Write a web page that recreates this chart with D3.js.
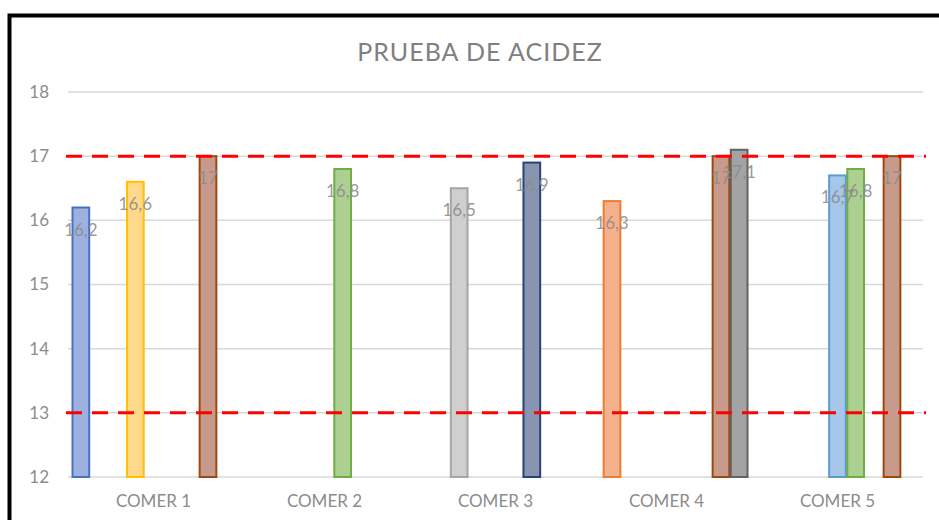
<!DOCTYPE html>
<html>
<head>
<meta charset="utf-8">
<script src="https://d3js.org/d3.v7.min.js"></script>
<style>
  body { margin: 0; background: #fff; }
  text { font-family: Lato, "Open Sans", sans-serif; }
</style>
</head>
<body>
<div id="chart"></div>
<script>
// categories and series
const categories = ["COMER 1", "COMER 2", "COMER 3", "COMER 4", "COMER 5"];
const seriesNames = ["S1", "S2", "S3", "S4", "S5", "S6", "S7", "S8", "S9"];
const seriesColors = ["#4472C4", "#ED7D31", "#A5A5A5", "#FFC000", "#5B9BD5", "#70AD47", "#264478", "#9E480E", "#636363"];
const seriesFills = ["#9db1e0", "#f5b08c", "#cfcfcf", "#ffd88a", "#a6c6ea", "#acd091", "#8994b0", "#c79a8c", "#a3a3a3"];
const s1 = [16.2, null, null, null, null];
const s2 = [null, null, null, 16.3, null];
const s3 = [null, null, 16.5, null, null];
const s4 = [16.6, null, null, null, null];
const s5 = [null, null, null, null, 16.7];
const s6 = [null, 16.8, null, null, 16.8];
const s7 = [null, null, 16.9, null, null];
const s8 = [17, null, null, 17, 17];
const s9 = [null, null, null, 17.1, null];
const seriesValues = [s1, s2, s3, s4, s5, s6, s7, s8, s9];
const yTicks = [12, 13, 14, 15, 16, 17, 18];
const limits = [17, 13];

const width = 939, height = 520;

const svg = d3.select("#chart")
  .append("svg")
  .attr("width", width)
  .attr("height", height);

// frame of the chart
svg.append("path")
  .attr("d", "M9.5,520 L9.5,15.5 L939,15.5")
  .attr("fill", "none")
  .attr("stroke", "#000")
  .attr("stroke-width", 4);

const x0 = d3.scaleBand()
  .domain(categories)
  .range([68, 923]);

const x1 = d3.scaleBand()
  .domain(seriesNames)
  .range([4.5, 166.5])
  .paddingInner(0.08);

const y = d3.scaleLinear()
  .domain([12, 18])
  .range([477, 92]);

// gridlines
svg.append("g")
  .selectAll("line")
  .data(yTicks)
  .join("line")
  .attr("x1", 68)
  .attr("x2", 923)
  .attr("y1", d => y(d))
  .attr("y2", d => y(d))
  .attr("stroke", "#d9d9d9")
  .attr("stroke-width", 1.5);

// y tick labels
svg.append("g")
  .selectAll("text")
  .data(yTicks)
  .join("text")
  .attr("x", 49)
  .attr("y", d => y(d))
  .attr("dy", "0.35em")
  .attr("text-anchor", "end")
  .attr("font-size", "17px")
  .attr("fill", "#8c8c8c")
  .text(d => d);

// category labels
svg.append("g")
  .selectAll("text")
  .data(categories)
  .join("text")
  .attr("x", d => x0(d) + x0.bandwidth() / 2)
  .attr("y", 501)
  .attr("dy", "0.35em")
  .attr("text-anchor", "middle")
  .attr("font-size", "17px")
  .attr("fill", "#8c8c8c")
  .text(d => d);

// bars
const barData = [];
seriesValues.forEach((vals, si) => {
  vals.forEach((v, ci) => {
    if (v !== null) barData.push({ s: seriesNames[si], color: seriesColors[si], fill: seriesFills[si], cat: categories[ci], value: v });
  });
});

svg.append("g")
  .selectAll("rect")
  .data(barData)
  .join("rect")
  .attr("x", d => x0(d.cat) + x1(d.s))
  .attr("y", d => y(d.value))
  .attr("width", x1.bandwidth())
  .attr("height", d => y(12) - y(d.value))
  .attr("fill", d => d.fill)
  .attr("stroke", d => d.color)
  .attr("stroke-width", 2);

// limit lines
svg.append("g")
  .selectAll("line")
  .data(limits)
  .join("line")
  .attr("x1", 66)
  .attr("x2", 926)
  .attr("y1", d => y(d))
  .attr("y2", d => y(d))
  .attr("stroke", "#ff0000")
  .attr("stroke-width", 3)
  .attr("stroke-dasharray", "16,10");

// data labels
svg.append("g")
  .selectAll("text")
  .data(barData)
  .join("text")
  .attr("x", d => x0(d.cat) + x1(d.s) + x1.bandwidth() / 2)
  .attr("y", d => y(d.value) + 28)
  .attr("text-anchor", "middle")
  .attr("font-size", "17px")
  .attr("fill", "#8c8c8c")
  .attr("fill-opacity", 0.9)
  .text(d => String(d.value).replace(".", ","));

// title
svg.append("text")
  .attr("x", 480)
  .attr("y", 61)
  .attr("text-anchor", "middle")
  .attr("font-size", "25px")
  .attr("letter-spacing", "1px")
  .attr("fill", "#808080")
  .text("PRUEBA DE ACIDEZ");
</script>
</body>
</html>
